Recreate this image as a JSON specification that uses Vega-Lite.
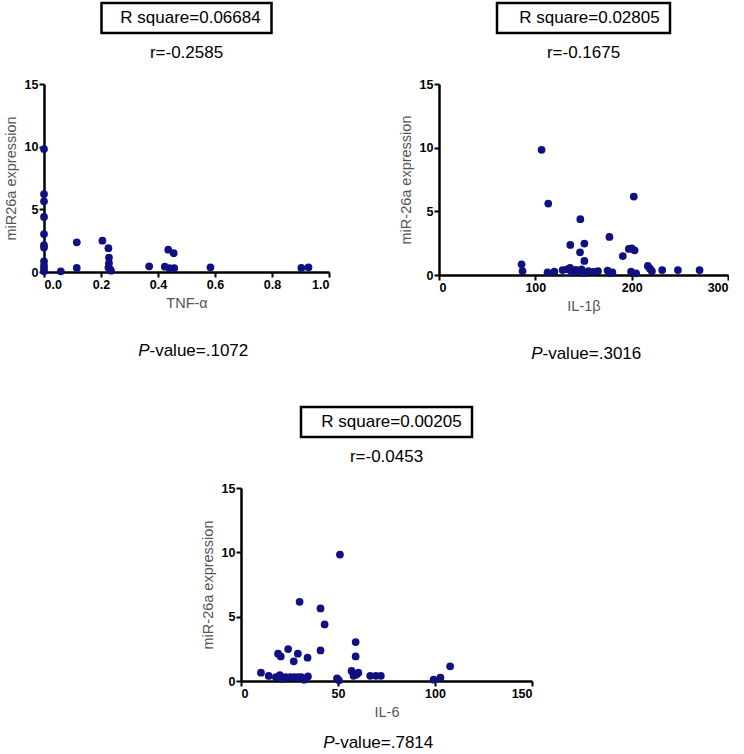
{
  "$schema": "https://vega.github.io/schema/vega-lite/v6.json",
  "padding": {"left": 3, "top": 1, "right": 0, "bottom": 0},
  "background": "white",
  "datasets": {
    "tnf": [
      {"tnf": 0, "mir": 9.81}, {"tnf": 0, "mir": 6.22}, {"tnf": 0, "mir": 5.64}, {"tnf": 0, "mir": 4.39},
      {"tnf": 0, "mir": 3.03}, {"tnf": 0, "mir": 2.15}, {"tnf": 0, "mir": 1.95}, {"tnf": 0, "mir": 0.85},
      {"tnf": 0, "mir": 0.5}, {"tnf": 0, "mir": 0.25}, {"tnf": 0, "mir": 0.05},
      {"tnf": 0.059, "mir": 0.05}, {"tnf": 0.115, "mir": 2.37}, {"tnf": 0.115, "mir": 0.32},
      {"tnf": 0.205, "mir": 2.5}, {"tnf": 0.226, "mir": 1.9}, {"tnf": 0.228, "mir": 1.15},
      {"tnf": 0.228, "mir": 0.7}, {"tnf": 0.226, "mir": 0.35}, {"tnf": 0.235, "mir": 0.1},
      {"tnf": 0.232, "mir": 0.2}, {"tnf": 0.369, "mir": 0.45}, {"tnf": 0.424, "mir": 0.42},
      {"tnf": 0.436, "mir": 1.78}, {"tnf": 0.455, "mir": 1.5}, {"tnf": 0.44, "mir": 0.3},
      {"tnf": 0.457, "mir": 0.3}, {"tnf": 0.584, "mir": 0.37}, {"tnf": 0.903, "mir": 0.32},
      {"tnf": 0.928, "mir": 0.37}
    ],
    "il1b": [
      {"il1b": 106.5, "mir": 9.83}, {"il1b": 113.4, "mir": 5.61}, {"il1b": 146.7, "mir": 4.38},
      {"il1b": 202.2, "mir": 6.16}, {"il1b": 176.9, "mir": 2.99}, {"il1b": 136.3, "mir": 2.36},
      {"il1b": 150.9, "mir": 2.47}, {"il1b": 146.4, "mir": 1.78}, {"il1b": 150.9, "mir": 1.1},
      {"il1b": 190.8, "mir": 1.49}, {"il1b": 197, "mir": 2.05}, {"il1b": 200, "mir": 2.1},
      {"il1b": 203, "mir": 1.94}, {"il1b": 85.7, "mir": 0.84}, {"il1b": 86.7, "mir": 0.31},
      {"il1b": 112.7, "mir": 0.21}, {"il1b": 119.7, "mir": 0.26}, {"il1b": 128.3, "mir": 0.39},
      {"il1b": 133, "mir": 0.45}, {"il1b": 136, "mir": 0.55}, {"il1b": 138, "mir": 0.2},
      {"il1b": 142, "mir": 0.4}, {"il1b": 145, "mir": 0.3}, {"il1b": 148, "mir": 0.45},
      {"il1b": 150, "mir": 0.15}, {"il1b": 155, "mir": 0.3}, {"il1b": 160, "mir": 0.25},
      {"il1b": 165, "mir": 0.3}, {"il1b": 175, "mir": 0.35}, {"il1b": 178, "mir": 0.15},
      {"il1b": 180, "mir": 0.2}, {"il1b": 199.4, "mir": 0.26}, {"il1b": 204.6, "mir": 0.13},
      {"il1b": 216.8, "mir": 0.71}, {"il1b": 219, "mir": 0.5}, {"il1b": 221, "mir": 0.3},
      {"il1b": 231.7, "mir": 0.39}, {"il1b": 248, "mir": 0.39}, {"il1b": 270.5, "mir": 0.39}
    ],
    "il6": [
      {"il6": 51, "mir": 9.83}, {"il6": 30.2, "mir": 6.15}, {"il6": 41, "mir": 5.64},
      {"il6": 43.1, "mir": 4.4}, {"il6": 59.1, "mir": 3.03}, {"il6": 24.3, "mir": 2.48},
      {"il6": 19.1, "mir": 2.12}, {"il6": 20.5, "mir": 1.91}, {"il6": 29.3, "mir": 2.12},
      {"il6": 27.2, "mir": 1.53}, {"il6": 34.3, "mir": 1.81}, {"il6": 41, "mir": 2.38},
      {"il6": 59.1, "mir": 1.91}, {"il6": 107.8, "mir": 1.14}, {"il6": 10.3, "mir": 0.65},
      {"il6": 14.3, "mir": 0.39}, {"il6": 18, "mir": 0.3}, {"il6": 20, "mir": 0.45},
      {"il6": 21.5, "mir": 0.15}, {"il6": 23, "mir": 0.3}, {"il6": 25.5, "mir": 0.3},
      {"il6": 27.5, "mir": 0.3}, {"il6": 29.5, "mir": 0.3}, {"il6": 31, "mir": 0.3},
      {"il6": 32.5, "mir": 0.1}, {"il6": 34.5, "mir": 0.35}, {"il6": 49.5, "mir": 0.2},
      {"il6": 50.5, "mir": 0.05}, {"il6": 57, "mir": 0.78}, {"il6": 58, "mir": 0.4},
      {"il6": 59.5, "mir": 0.5}, {"il6": 60.5, "mir": 0.65}, {"il6": 66.6, "mir": 0.4},
      {"il6": 69.5, "mir": 0.4}, {"il6": 72.1, "mir": 0.4}, {"il6": 99.3, "mir": 0.1},
      {"il6": 102.8, "mir": 0.26}
    ]
  },
  "config": {
    "font": "Liberation Sans",
    "view": {"stroke": null},
    "axis": {
      "grid": false,
      "domainColor": "black",
      "domainWidth": 2.5,
      "tickColor": "black",
      "tickWidth": 2,
      "tickSize": 5,
      "labelFont": "Liberation Sans",
      "labelFontWeight": "bold",
      "labelFontSize": 12.5,
      "labelColor": "black",
      "labelPadding": 1,
      "titleFont": "Liberation Sans",
      "titleFontWeight": "normal",
      "titleFontSize": 14.5,
      "titleColor": "#555555",
      "titlePadding": 6
    },
    "title": {"font": "Liberation Sans", "fontSize": 17, "fontWeight": "normal", "color": "black", "offset": 16},
    "text": {"font": "Liberation Sans", "fontSize": 17, "color": "black"},
    "circle": {"size": 60, "opacity": 1, "color": "#101080"}
  },
  "vconcat": [
    {
      "hconcat": [
        {
          "vconcat": [
            {
              "width": 170, "height": 30,
              "data": {"values": [{}]},
              "view": {"stroke": "black", "strokeWidth": 2.5},
              "mark": {"type": "text", "text": "R square=0.06684", "dx": 4},
              "encoding": {}
            },
            {
              "width": 285, "height": 188,
              "data": {"name": "tnf"},
              "title": "r=-0.2585",
              "mark": "circle",
              "encoding": {
                "x": {"field": "tnf", "type": "quantitative", "scale": {"domain": [0, 1]},
                      "axis": {"values": [0, 0.2, 0.4, 0.6, 0.8, 1], "labelExpr": "datum.value < 0.01 ? '0.0' : format(datum.value, '.1f')", "title": "TNF-α"}},
                "y": {"field": "mir", "type": "quantitative", "scale": {"domain": [0, 15]},
                      "axis": {"values": [0, 5, 10, 15], "title": "miR26a expression"}}
              }
            },
            {
              "width": 285, "height": 56,
              "data": {"values": [{}]},
              "layer": [
                {"mark": {"type": "text", "text": "P", "fontStyle": "italic", "align": "right", "dx": -37}, "encoding": {}},
                {"mark": {"type": "text", "text": "-value=.1072", "align": "left", "dx": -37}, "encoding": {}}
              ]
            }
          ],
          "bounds": "flush",
          "center": true,
          "spacing": 51
        },
        {
          "vconcat": [
            {
              "width": 173, "height": 30,
              "data": {"values": [{}]},
              "view": {"stroke": "black", "strokeWidth": 2.5},
              "mark": {"type": "text", "text": "R square=0.02805", "dx": 6},
              "encoding": {}
            },
            {
              "width": 289, "height": 191,
              "data": {"name": "il1b"},
              "title": "r=-0.1675",
              "mark": "circle",
              "encoding": {
                "x": {"field": "il1b", "type": "quantitative", "scale": {"domain": [0, 300]},
                      "axis": {"values": [0, 100, 200, 300], "title": "IL-1β"}},
                "y": {"field": "mir", "type": "quantitative", "scale": {"domain": [0, 15]},
                      "axis": {"values": [0, 5, 10, 15], "title": "miR-26a expression"}}
              }
            },
            {
              "width": 289, "height": 56,
              "data": {"values": [{}]},
              "layer": [
                {"mark": {"type": "text", "text": "P", "fontStyle": "italic", "align": "right", "dx": -41}, "encoding": {}},
                {"mark": {"type": "text", "text": "-value=.3016", "align": "left", "dx": -41}, "encoding": {}}
              ]
            }
          ],
          "bounds": "flush",
          "center": true,
          "spacing": 51
        }
      ],
      "spacing": 68
    },
    {
      "hconcat": [
        {
          "width": 146, "height": 10,
          "data": {"values": []},
          "mark": "point",
          "encoding": {}
        },
        {
          "vconcat": [
            {
              "width": 171, "height": 30,
              "data": {"values": [{}]},
              "view": {"stroke": "black", "strokeWidth": 2.5},
              "mark": {"type": "text", "text": "R square=0.00205", "dx": 5},
              "encoding": {}
            },
            {
              "width": 291, "height": 193,
              "data": {"name": "il6"},
              "title": "r=-0.0453",
              "mark": "circle",
              "encoding": {
                "x": {"field": "il6", "type": "quantitative", "scale": {"domain": [0, 150]},
                      "axis": {"values": [0, 50, 100, 150], "title": "IL-6"}},
                "y": {"field": "mir", "type": "quantitative", "scale": {"domain": [0, 15]},
                      "axis": {"values": [0, 5, 10, 15], "title": "miR-26a expression"}}
              }
            },
            {
              "width": 291, "height": 22,
              "data": {"values": [{}]},
              "layer": [
                {"mark": {"type": "text", "text": "P", "fontStyle": "italic", "align": "right", "dx": -52}, "encoding": {}},
                {"mark": {"type": "text", "text": "-value=.7814", "align": "left", "dx": -52}, "encoding": {}}
              ]
            }
          ],
          "bounds": "flush",
          "center": true,
          "spacing": 51
        }
      ],
      "spacing": 10
    }
  ],
  "spacing": 23
}
